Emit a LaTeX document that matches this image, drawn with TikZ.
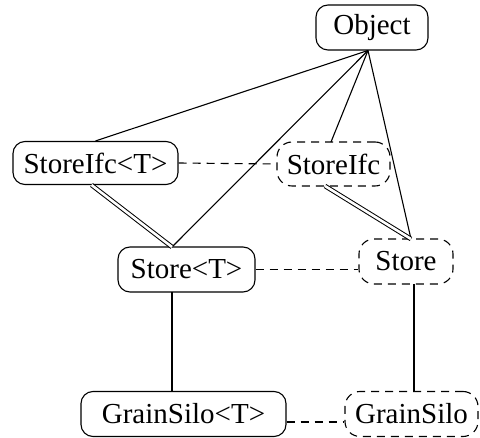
\documentclass[tikz,border=0pt]{standalone}
\usepackage{fontspec}
\setmainfont{Liberation Serif}
\begin{document}
\begin{tikzpicture}[x=1pt,y=-1pt,
  cls/.style={draw, line width=1.1pt, rounded corners=12pt, inner sep=0pt,
    font=\fontsize{29}{34}\selectfont, anchor=center},
  iface/.style={cls, dash pattern=on 8pt off 6pt, rounded corners=15pt},
  link/.style={line width=1.1pt},
  dbl/.style={line width=1pt, double, double distance=2.6pt},
  peer/.style={line width=1.1pt, dash pattern=on 8pt off 6pt}]
\useasboundingbox (0,0) rectangle (480,438);

% classes
\node[cls, minimum width=112pt, minimum height=45pt] (obj) at (372,27.5) {Object};
\node[cls, minimum width=165pt, minimum height=43pt] (sit) at (95.5,163) {StoreIfc<T>};
\node[iface, minimum width=113pt, minimum height=44pt] (si) at (333.5,164) {StoreIfc};
\node[cls, minimum width=137pt, minimum height=45pt] (st) at (186.5,269.5) {Store<T>};
\node[iface, minimum width=94pt, minimum height=45pt] (s) at (406,261.5) {Store};
\node[cls, minimum width=205pt, minimum height=45pt] (gst) at (183.5,414) {GrainSilo<T>};
\node[iface, minimum width=133pt, minimum height=45pt] (gs) at (411.5,414) {GrainSilo};

% attachment points
\coordinate (objbot) at (368,50.5);
\coordinate (sttop) at (172,247);
\coordinate (stop) at (411,239);
\coordinate (sitbot) at (91.5,185);
\coordinate (sibot) at (325,186);
\coordinate (stbot) at (172,292);
\coordinate (gsttop) at (172,391.5);
\coordinate (sbot) at (414,284);
\coordinate (gstop) at (414,391.5);

% inheritance from Object
\draw[link] (objbot) -- (sit.north);
\draw[link] (objbot) -- (sttop);
\draw[link] (objbot) -- (331,142);
\draw[link] (objbot) -- (stop);

% interface implementation
\draw[dbl] (sitbot) -- (sttop);
\draw[dbl] (sibot) -- (stop);

% subclassing
\draw[link] (stbot) -- (gsttop);
\draw[link] (sbot) -- (gstop);

% generic / raw counterparts
\draw[peer] (sit.east) -- (si.west);
\draw[peer] (st.east) -- (st.east -| s.west);
\draw[peer] ([yshift=-8pt]gst.east) -- ([yshift=-8pt]gst.east -| gs.west);
\end{tikzpicture}
\end{document}
